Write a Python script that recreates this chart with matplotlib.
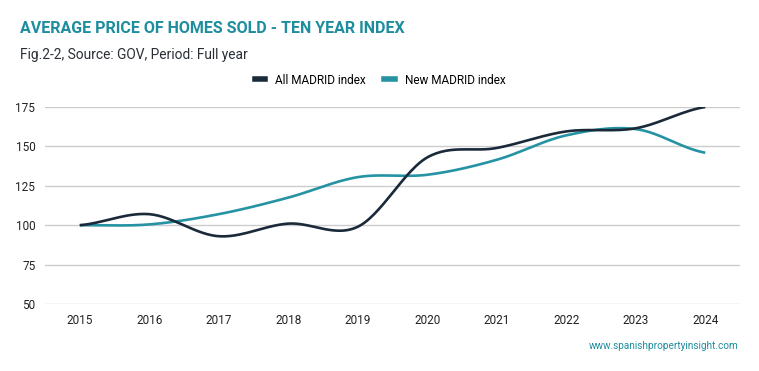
import numpy as np
import matplotlib
matplotlib.use("Agg")
import matplotlib.pyplot as plt
from matplotlib.lines import Line2D

years = ["2015", "2016", "2017", "2018", "2019", "2020", "2021", "2022", "2023", "2024"]
all_madrid = [100, 107, 93, 101, 99, 143, 149, 159.5, 161.5, 175]
new_madrid = [100, 100.5, 107, 117.5, 130.5, 132, 141.5, 157, 161, 146]
yticks = [50, 75, 100, 125, 150, 175]

DARK = "#1b2a3a"
TEAL = "#2593a3"
TITLE_C = "#1e8e9e"

plt.rcParams['font.family'] = ['Roboto', 'DejaVu Sans']


def smooth(y, n=30, t=0.5):
    y = np.asarray(y, float)
    x = np.arange(len(y), dtype=float)
    xs, ys = [], []
    for i in range(len(y) - 1):
        p0 = y[i - 1] if i > 0 else y[i]
        p3 = y[i + 2] if i + 2 < len(y) else y[i + 1]
        p1, p2 = y[i], y[i + 1]
        m1 = t * (p2 - p0)
        m2 = t * (p3 - p1)
        s = np.linspace(0, 1, n, endpoint=(i == len(y) - 2))
        h00 = 2 * s**3 - 3 * s**2 + 1
        h10 = s**3 - 2 * s**2 + s
        h01 = -2 * s**3 + 3 * s**2
        h11 = s**3 - s**2
        ys.append(h00 * p1 + h10 * m1 + h01 * p2 + h11 * m2)
        xs.append(x[i] + s)
    return np.concatenate(xs), np.concatenate(ys)


fig = plt.figure(figsize=(7.59, 3.71), dpi=100)
ax = fig.add_axes([45 / 759, 1 - 304 / 371, 695 / 759, 197 / 371])

for vals, c in [(new_madrid, TEAL), (all_madrid, DARK)]:
    xs, ys = smooth(vals)
    ax.plot(xs, ys, color=c, lw=1.9, solid_capstyle='butt', zorder=3)

ax.set_xlim(-0.5, len(years) - 0.5)
ax.set_ylim(50, 175)
ax.set_yticks(yticks)
ax.set_xticks(range(len(years)))
ax.set_xticklabels(years)
ax.grid(axis='y', color='#cccccc', lw=1)
ax.set_axisbelow(True)
for s in ax.spines.values():
    s.set_visible(False)
ax.tick_params(axis='both', length=0, labelsize=8.5, colors='#222222')
ax.tick_params(axis='y', pad=7)
ax.tick_params(axis='x', pad=7)

fig.text(20 / 759, 1 - 33 / 371, "AVERAGE PRICE OF HOMES SOLD - TEN YEAR INDEX",
         color=TITLE_C, fontsize=11.5, fontweight='bold', va='baseline', ha='left')
fig.text(20 / 759, 1 - 59 / 371, "Fig.2-2, Source: GOV, Period: Full year",
         color='#2a2f36', fontsize=9.9, va='baseline', ha='left')

handles = [Line2D([], [], color=DARK, lw=4), Line2D([], [], color=TEAL, lw=4)]
fig.legend(handles, ["All MADRID index", "New MADRID index"], loc='center',
           bbox_to_anchor=(380 / 759, 1 - 80 / 371), ncol=2, frameon=False,
           fontsize=8.5, handlelength=0.9, handletextpad=0.8, columnspacing=1.6)

fig.text(739 / 759, 1 - 346 / 371, "www.spanishpropertyinsight.com",
         color=TITLE_C, fontsize=7.2, ha='right', va='center')

fig.savefig("out.png", dpi=100)
